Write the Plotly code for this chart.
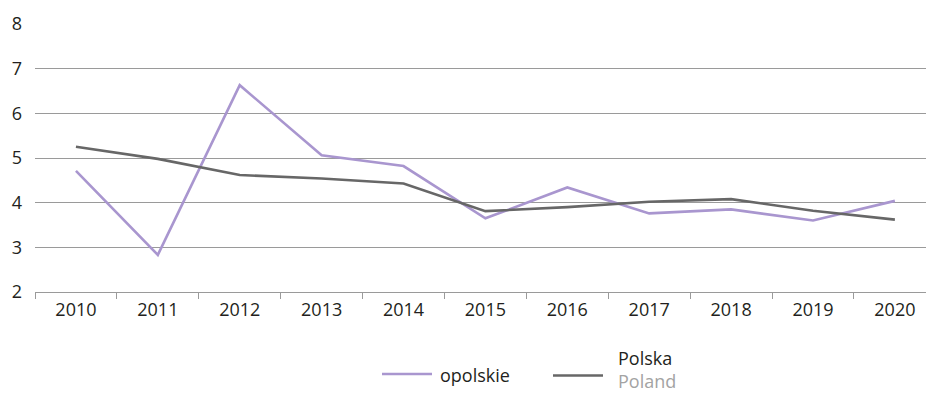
import plotly.graph_objects as go

years = ["2010", "2011", "2012", "2013", "2014", "2015", "2016", "2017", "2018", "2019", "2020"]
opolskie = [4.71, 2.83, 6.63, 5.06, 4.82, 3.65, 4.34, 3.76, 3.85, 3.60, 4.04]
polska = [5.25, 4.98, 4.62, 4.54, 4.43, 3.81, 3.90, 4.02, 4.08, 3.82, 3.62]
y_ticks = [2, 3, 4, 5, 6, 7, 8]

PURPLE = "#a996cf"
DARK = "#676767"
GRID = "#9a9a9a"
TEXT = "#231f20"
FONT = "Open Sans"
FS = 18

W, H = 926, 393
L, R, T, B = 35, 0, 24, 101
PW, PH = W - L - R, H - T - B


def px(x):
    return (x - L) / PW


def py(y):
    return (H - B - y) / PH


fig = go.Figure()
fig.add_trace(go.Scatter(x=years, y=opolskie, mode="lines", name="opolskie",
                         line=dict(color=PURPLE, width=2.6), showlegend=False))
fig.add_trace(go.Scatter(x=years, y=polska, mode="lines", name="Polska",
                         line=dict(color=DARK, width=2.6), showlegend=False))

# legend drawn by hand: line samples plus labels
shapes = [
    dict(type="line", xref="paper", yref="paper", x0=px(382), x1=px(432),
         y0=py(374), y1=py(374), line=dict(color=PURPLE, width=2.6)),
    dict(type="line", xref="paper", yref="paper", x0=px(553), x1=px(603),
         y0=py(375.5), y1=py(375.5), line=dict(color=DARK, width=2.6)),
]
annotations = [
    dict(text="opolskie", xref="paper", yref="paper", x=px(438), y=py(375),
         xanchor="left", yanchor="middle", showarrow=False,
         font=dict(family=FONT, size=FS, color=TEXT)),
    dict(text="Polska<br><span style='color:#a3a3a3'>Poland</span>",
         xref="paper", yref="paper", x=px(617), y=py(369),
         xanchor="left", yanchor="middle", align="left", showarrow=False,
         borderpad=0, font=dict(family=FONT, size=FS, color=TEXT)),
]

fig.update_layout(
    width=W, height=H,
    margin=dict(l=L, r=R, t=T, b=B, pad=0),
    paper_bgcolor="white", plot_bgcolor="white",
    font=dict(family=FONT, size=FS, color=TEXT),
    shapes=shapes, annotations=annotations,
    xaxis=dict(
        type="category", range=[-0.5, 10.38],
        showgrid=False, showline=True, linecolor=GRID, linewidth=1,
        ticks="outside", tickson="boundaries", ticklen=6, tickcolor=GRID,
        tickwidth=1, zeroline=False, ticklabelstandoff=1,
        tickfont=dict(family=FONT, size=FS, color=TEXT),
    ),
    yaxis=dict(
        range=[2, 8], tickvals=y_ticks, ticktext=[str(v) for v in y_ticks],
        showgrid=True, gridcolor=GRID, gridwidth=1, zeroline=False,
        showline=False, ticks="", ticklabelstandoff=12,
        tickfont=dict(family=FONT, size=FS, color=TEXT),
    ),
)

fig.write_html("out.html")
